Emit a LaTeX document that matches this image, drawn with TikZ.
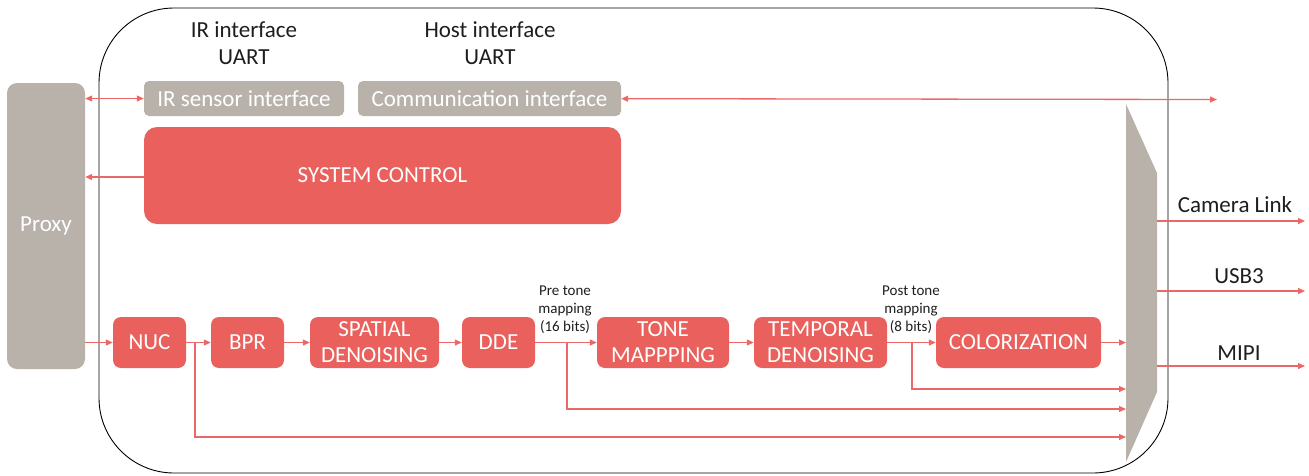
\documentclass[tikz,border=0pt]{standalone}
\usepackage{fontspec}
\setmainfont{Carlito}
\usepackage{tikz}
\usetikzlibrary{arrows.meta,positioning,calc}

\definecolor{blockred}{RGB}{233,96,92}
\definecolor{linkred}{RGB}{236,104,104}
\definecolor{portgray}{RGB}{185,178,170}
\definecolor{labelgray}{RGB}{30,30,30}

\begin{document}
\begin{tikzpicture}[x=1pt,y=-1pt]
\tikzset{
  block/.style={rectangle, rounded corners=8pt, fill=blockred, text=white, align=center,
    font=\fontsize{23}{26}\selectfont, inner sep=0pt, minimum height=51pt},
  port/.style={rectangle, rounded corners=5pt, fill=portgray, text=white, align=center,
    font=\fontsize{23}{26}\selectfont, inner sep=0pt, minimum height=35pt},
  link/.style={-{Triangle[length=7pt,width=6pt]}, line width=1.3pt, draw=linkred},
  dlink/.style={{Triangle[length=7pt,width=6pt]}-{Triangle[length=7pt,width=6pt]}, line width=1.3pt, draw=linkred},
  head/.style={align=center, text=labelgray, font=\fontsize{23}{27}\selectfont},
  note/.style={align=center, text=labelgray, font=\fontsize{15}{18}\selectfont, inner sep=1pt},
  outlab/.style={text=labelgray, font=\fontsize{23}{26}\selectfont, inner sep=1pt}
}
\useasboundingbox (0,0) rectangle (1309,475);

% camera core outline
\draw[line width=0.9pt, rounded corners=75pt] (99,8) rectangle (1168,473);

% interfaces and control
\node[port, minimum width=78pt, minimum height=286pt, rounded corners=10pt] (proxy) at (46,226) {Proxy};
\node[port, minimum width=200pt] (irsens) at (244,98.5) {IR sensor interface};
\node[port, minimum width=263pt] (comm) at (489.5,98.5) {Communication interface};
\node[block, minimum width=477pt, minimum height=97pt, rounded corners=13pt] (sysctl) at (382.5,175.5) {SYSTEM CONTROL};
\node[head] (irhead) at (244,43.5) {IR interface\\UART};
\node[head] (hosthead) at (490,43.5) {Host interface\\UART};

% processing chain
\node[block, minimum width=73pt] (nuc) at (149.5,342.5) {NUC};
\node[block, minimum width=73pt] (bpr) at (247.5,342.5) {BPR};
\node[block, minimum width=129pt] (spatial) at (374.5,342.5) {SPATIAL\\DENOISING};
\node[block, minimum width=73pt] (dde) at (498.5,342.5) {DDE};
\node[block, minimum width=132pt] (tone) at (663,342.5) {TONE\\MAPPPING};
\node[block, minimum width=133pt] (temporal) at (820.5,342.5) {TEMPORAL\\DENOISING};
\node[block, minimum width=165pt] (color) at (1018.5,342.5) {COLORIZATION};

% output multiplexer
\fill[portgray] (1126,104) -- (1157,173) -- (1157,392) -- (1126,462) -- cycle;
\coordinate (muxin0) at (1126,342.5);
\coordinate (muxin1) at (1126,389);
\coordinate (muxin2) at (1126,409);
\coordinate (muxin3) at (1126,437);
\coordinate (tapnuc) at (195,342.5);
\coordinate (tappre) at (567,342.5);
\coordinate (tappost) at (912,342.5);
\coordinate (hostout) at (1217,99.5);
\coordinate (camout) at (1157,221);
\coordinate (usbout) at (1157,291);
\coordinate (mipiout) at (1157,366);
\coordinate (camend) at (1305,221);
\coordinate (usbend) at (1305,291);
\coordinate (mipiend) at (1305,366);

\node[note] (prelab) at (565,310) {Pre tone\\mapping\\(16 bits)};
\node[note] (postlab) at (911,310) {Post tone\\mapping\\(8 bits)};

% connections
\draw[dlink] (proxy.east |- irsens) -- (irsens);
\draw[dlink] (comm) -- (hostout);
\draw[link] (sysctl.west |- 0,177) -- (proxy.east |- 0,177);
\draw[link] (proxy.east |- nuc) -- (nuc);
\draw[link] (nuc) -- (bpr);
\draw[link] (bpr) -- (spatial);
\draw[link] (spatial) -- (dde);
\draw[link] (dde) -- (tone);
\draw[link] (tone) -- (temporal);
\draw[link] (temporal) -- (color);
\draw[link] (color) -- (muxin0);
\draw[link] (tapnuc) |- (muxin3);
\draw[link] (tappre) |- (muxin2);
\draw[link] (tappost) |- (muxin1);
\draw[link] (camout) -- node[outlab, above=7pt, xshift=4pt] {Camera Link} (camend);
\draw[link] (usbout) -- node[outlab, above=6pt, xshift=8pt] {USB3} (usbend);
\draw[link] (mipiout) -- node[outlab, above=4pt, xshift=8pt] {MIPI} (mipiend);
\end{tikzpicture}
\end{document}
